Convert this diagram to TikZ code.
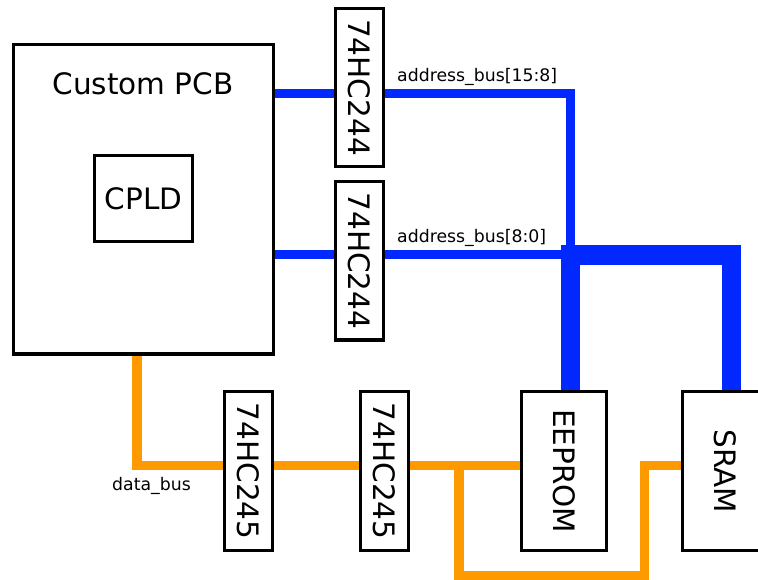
\documentclass[tikz,border=0pt]{standalone}
\usepackage{fontspec}
\setmainfont{DejaVu Sans}
\usetikzlibrary{backgrounds}
\definecolor{busblue}{RGB}{0,40,255}
\definecolor{busorange}{RGB}{255,153,0}
\tikzset{
  box/.style={draw=black, line width=3.3pt, fill=white, inner sep=0pt, outer sep=0pt, font=\fontsize{29.5pt}{29.5pt}\selectfont},
  chip/.style={box, minimum width=48pt, minimum height=158.5pt},
  mem/.style={box, minimum width=85pt, minimum height=159pt},
  abus/.style={draw=busblue, line width=9pt},
  abusthick/.style={draw=busblue, line width=19.5pt},
  dbus/.style={draw=busorange, line width=9.3pt},
  buslabel/.style={font=\fontsize{17.3pt}{17.3pt}\selectfont, inner sep=0pt, anchor=base west, text=black},
  title/.style={font=\fontsize{29.5pt}{29.5pt}\selectfont, inner sep=0pt}
}
\begin{document}
\begin{tikzpicture}[x=1pt,y=-1pt]
\useasboundingbox (0,0) rectangle (758,579);
% blocks
\node[box, minimum width=260pt, minimum height=309.5pt] (pcb) at (143.5,199.25) {};
\node[title] (pcbtitle) at (143,83.5) {Custom PCB};
\node[box, minimum width=98pt, minimum height=86pt] (cpld) at (143.5,198.5) {CPLD};
\node[chip] (u1) at (359.5,87.5) {\rotatebox{-90}{74HC244}};
\node[chip] (u2) at (359.5,260.8) {\rotatebox{-90}{74HC244}};
\node[chip, minimum height=159pt] (b1) at (248.7,471.2) {\rotatebox{-90}{74HC245}};
\node[chip, minimum height=159pt] (b2) at (384.5,471.2) {\rotatebox{-90}{74HC245}};
\node[mem] (eeprom) at (564.2,471.2) {\rotatebox{-90}{EEPROM}};
\node[mem] (sram) at (724.8,471.2) {\rotatebox{-90}{SRAM}};
% helper coordinates
\coordinate (ya) at (0,93.5);
\coordinate (yb) at (0,254.5);
\coordinate (yt) at (0,255);
\coordinate (xe) at (570.5,0);
\coordinate (xs) at (731.5,0);
\coordinate (yd) at (0,465.3);
\coordinate (xp) at (137,0);
\coordinate (xbr) at (459,0);
\coordinate (ylow) at (0,575.5);
\coordinate (xup) at (644.7,0);
\begin{pgfonlayer}{background}
  \draw[abusthick] (xe |- eeprom.north) -- (xe |- yt) -- (xs |- yt) -- (xs |- sram.north);
  \draw[abus] (pcb.east |- ya) -- (u1.west |- ya);
  \draw[abus] (u1.east |- ya) -- (xe |- ya) -- (xe |- yt);
  \draw[abus] (pcb.east |- yb) -- (u2.west |- yb);
  \draw[abus] (u2.east |- yb) -- (xe |- yb);
  \draw[dbus] (xp |- pcb.south) -- (xp |- yd) -- (b1.west |- yd);
  \draw[dbus] (b1.east |- yd) -- (b2.west |- yd);
  \draw[dbus] (b2.east |- yd) -- (eeprom.west |- yd);
  \draw[dbus] (xbr |- yd) -- (xbr |- ylow) -- (xup |- ylow) -- (xup |- yd) -- (sram.west |- yd);
\end{pgfonlayer}
% labels
\node[buslabel] (la) at (397,81.5) {address\_bus[15:8]};
\node[buslabel] (lb) at (397,242.5) {address\_bus[8:0]};
\node[buslabel] (ld) at (112,490.5) {data\_bus};
\end{tikzpicture}
\end{document}
